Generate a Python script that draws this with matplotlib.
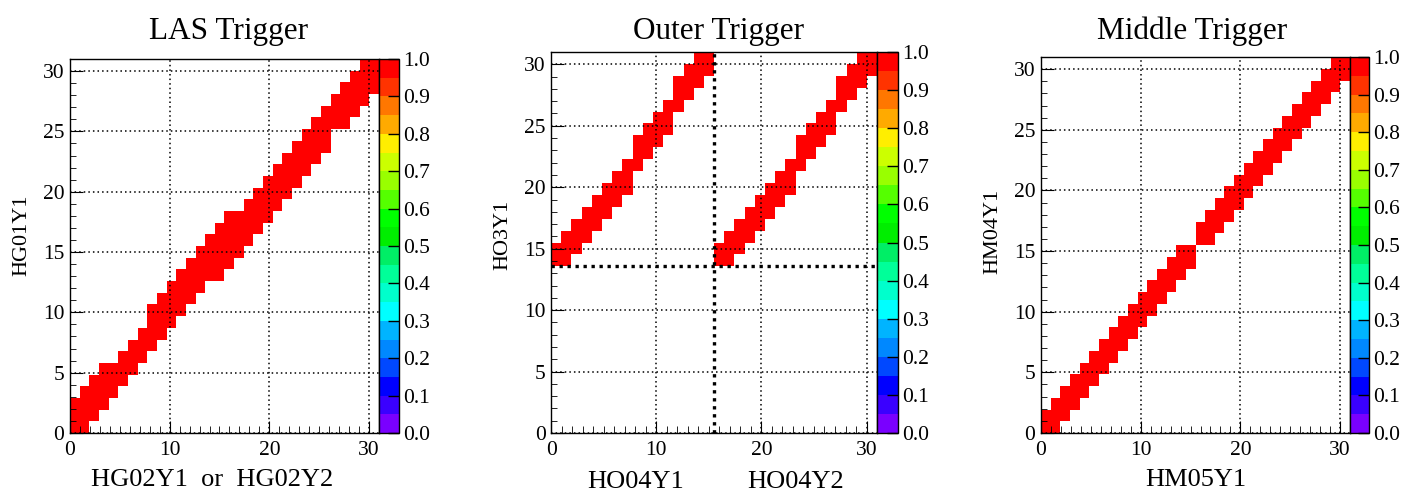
import numpy as np
import matplotlib
matplotlib.use('Agg')
import matplotlib.pyplot as plt
from matplotlib.colors import ListedColormap
from matplotlib.ticker import MultipleLocator

plt.rcParams['font.family'] = 'Liberation Serif'

# 32 channels per hodoscope plane, axis shown 0..31
nbins = 32
axis_max = 31

# lowest / highest filled y channel for each x channel (efficiency = 1)
las_lo = [0, 0, 1, 2, 3, 4, 5, 6, 7, 8, 9, 10, 11, 12, 13, 13,
          14, 15, 16, 17, 18, 19, 20, 21, 22, 23, 24, 26, 26, 27, 28, 29]
las_hi = [2, 3, 4, 5, 5, 6, 7, 8, 10, 11, 12, 13, 14, 15, 16, 17,
          18, 18, 19, 20, 21, 22, 23, 24, 25, 26, 27, 28, 29, 30, 31, 31]

# outer trigger: HO04Y1 channels 0-15 and HO04Y2 channels 16-31
outer_y1_lo = [14, 14, 15, 16, 17, 18, 19, 20, 22, 23, 24, 25, 27, 28, 29, 30]
outer_y1_hi = [15, 16, 17, 18, 19, 20, 21, 22, 24, 25, 26, 27, 29, 30, 31, 31]
outer_y2_lo = [14, 14, 15, 16, 17, 18, 19, 20, 22, 23, 24, 25, 27, 28, 29, 30]
outer_y2_hi = [15, 16, 17, 18, 19, 20, 21, 22, 24, 25, 26, 27, 29, 30, 31, 31]
outer_split_x = 16   # first channel of HO04Y2
outer_split_y = 14   # lowest HO3Y1 channel used

mid_lo = [0, 0, 1, 2, 3, 4, 5, 6, 7, 8, 9, 10, 11, 12, 13, 14,
          16, 16, 17, 18, 19, 20, 21, 22, 23, 24, 25, 26, 27, 28, 29, 30]
mid_hi = [1, 2, 3, 4, 5, 6, 7, 8, 9, 10, 11, 12, 13, 14, 15, 15,
          17, 18, 19, 20, 21, 22, 23, 24, 25, 26, 27, 28, 29, 30, 31, 31]

titles = ['LAS Trigger', 'Outer Trigger', 'Middle Trigger']
ylabels = ['HG01Y1', 'HO3Y1', 'HM04Y1']
cbar_ticks = np.round(np.arange(0, 1.01, 0.1), 1)

# ROOT-like rainbow palette, 20 levels
palette = ['#7a00ff', '#3a00ff', '#0000ff', '#0048ff', '#0088ff', '#00b4ff',
           '#00ffff', '#00ffcc', '#00ff99', '#00ee66', '#00ee00', '#00ff00',
           '#55ff00', '#99ff00', '#ccff00', '#ffee00', '#ffaa00', '#ff7700',
           '#ff3300', '#ff0000']
cmap = ListedColormap(palette)


def make_map(lo, hi):
    z = np.full((nbins, nbins), np.nan)
    for i in range(len(lo)):
        z[lo[i]:hi[i] + 1, i] = 1.0
    return z


z_las = make_map(las_lo, las_hi)
z_outer = make_map(outer_y1_lo + outer_y2_lo, outer_y1_hi + outer_y2_hi)
z_mid = make_map(mid_lo, mid_hi)
edges = np.linspace(0, axis_max, nbins + 1)

fig = plt.figure(figsize=(14.28, 4.98), dpi=100)
ax_pos = [[0.0490, 0.1305, 0.2164, 0.751],
          [0.3859, 0.1305, 0.2283, 0.765],
          [0.7290, 0.1305, 0.2164, 0.755]]
cb_pos = [[0.2654, 0.1305, 0.0140, 0.751],
          [0.6142, 0.1305, 0.0147, 0.765],
          [0.9454, 0.1305, 0.0133, 0.755]]
title_x = [0.160, 0.503, 0.835]
ylabel_y = [0.53, 0.52, 0.535]

for k, z in enumerate([z_las, z_outer, z_mid]):
    ax = fig.add_axes(ax_pos[k])
    pm = ax.pcolormesh(edges, edges, z, cmap=cmap, vmin=0, vmax=1)
    ax.set_xlim(0, axis_max)
    ax.set_ylim(0, axis_max)
    ax.xaxis.set_major_locator(MultipleLocator(10))
    ax.xaxis.set_minor_locator(MultipleLocator(1))
    ax.yaxis.set_major_locator(MultipleLocator(5))
    ax.yaxis.set_minor_locator(MultipleLocator(1))
    ax.tick_params(which='both', direction='in', top=False, right=False,
                   labelsize=15.5)
    ax.tick_params(axis='x', which='major', length=9, pad=6)
    ax.tick_params(axis='x', which='minor', length=5)
    ax.tick_params(axis='y', which='major', length=9, pad=4)
    ax.tick_params(axis='y', which='minor', length=4.5)
    ax.grid(True, which='major', color='black', linestyle=(0, (1, 2)), linewidth=1.1)
    ax.set_axisbelow(False)
    for s in ax.spines.values():
        s.set_linewidth(1.0)
    ax.set_ylabel(ylabels[k], fontsize=16, labelpad=8, y=ylabel_y[k])
    fig.text(title_x[k], 0.937, titles[k], fontsize=22.5, ha='center', va='center')

    cax = fig.add_axes(cb_pos[k])
    cb = fig.colorbar(pm, cax=cax, ticks=cbar_ticks, format='%.1f')
    cax.tick_params(direction='in', length=8, width=1, labelsize=15.5, pad=3)
    cb.outline.set_linewidth(1.0)

    if k == 0:
        ax.set_xlabel('HG02Y1  or  HG02Y2', fontsize=19, labelpad=6, x=0.46)
    elif k == 1:
        ax.axvline(edges[outer_split_x], color='black', linewidth=2.4,
                   linestyle=(0, (1, 1.4)))
        ax.axhline(edges[outer_split_y], color='black', linewidth=2.4,
                   linestyle=(0, (1, 1.4)))
        ax.text(0.26, -0.128, 'HO04Y1', transform=ax.transAxes, fontsize=19,
                ha='center', va='center')
        ax.text(0.75, -0.128, 'HO04Y2', transform=ax.transAxes, fontsize=19,
                ha='center', va='center')
    else:
        ax.set_xlabel('HM05Y1', fontsize=19, labelpad=6)

plt.savefig('out.png', dpi=100)
